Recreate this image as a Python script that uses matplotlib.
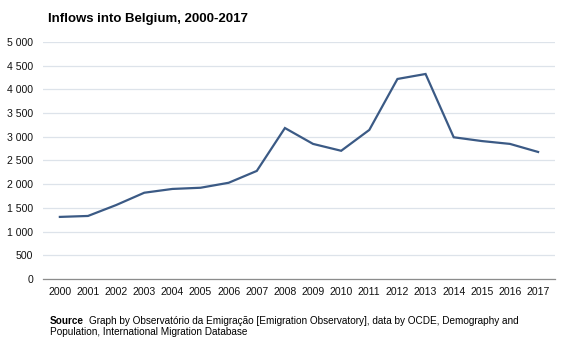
import matplotlib.pyplot as plt
from matplotlib.ticker import FuncFormatter

plt.rcParams['font.family'] = ['Liberation Sans', 'DejaVu Sans']

years = list(range(2000, 2018))
inflows = [1310, 1330, 1560, 1820, 1900, 1925, 2030, 2280, 3185, 2850,
           2705, 3145, 4220, 4325, 2990, 2910, 2850, 2680]
yticks = [0, 500, 1000, 1500, 2000, 2500, 3000, 3500, 4000, 4500, 5000]

fig = plt.figure(figsize=(5.67, 3.40), dpi=100)
ax = fig.add_axes([0.0758, 0.1794, 0.903, 0.6971])

ax.plot(years, inflows, color='#3b5a85', lw=1.6, solid_joinstyle='miter')

ax.set_xlim(years[0] - 0.6, years[-1] + 0.6)
ax.set_ylim(0, 5000)
ax.set_yticks(yticks)
ax.set_xticks(years)
ax.yaxis.set_major_formatter(FuncFormatter(lambda v, p: f"{int(v):,}".replace(',', ' ')))
ax.grid(axis='y', color='#dde3ea', lw=0.9)
ax.set_axisbelow(True)
for s in ['top', 'right', 'left']:
    ax.spines[s].set_visible(False)
ax.spines['bottom'].set_color('#8c8c8c')
ax.spines['bottom'].set_linewidth(0.9)
ax.tick_params(axis='both', length=0, labelsize=7.6, colors='#111111')
ax.tick_params(axis='y', pad=7)
ax.tick_params(axis='x', pad=6)

fig.text(0.084, 0.945, 'Inflows into Belgium, 2000-2017', fontsize=9.5,
         fontweight='bold', va='center', ha='left')

# source note: bold label followed by the credit text
src = fig.text(0.088, 0.042, 'Source', fontsize=7.2, fontweight='bold',
               va='bottom', ha='left')
ax.annotate('Graph by Observatório da Emigração [Emigration Observatory], data by OCDE, Demography and',
            xy=(1, 0), xycoords=src, xytext=(3.5, 0), textcoords='offset points',
            fontsize=7.2, va='bottom', ha='left', annotation_clip=False)
fig.text(0.088, 0.008, 'Population, International Migration Database',
         fontsize=7.2, va='bottom', ha='left')

fig.savefig('out.png', dpi=100)
